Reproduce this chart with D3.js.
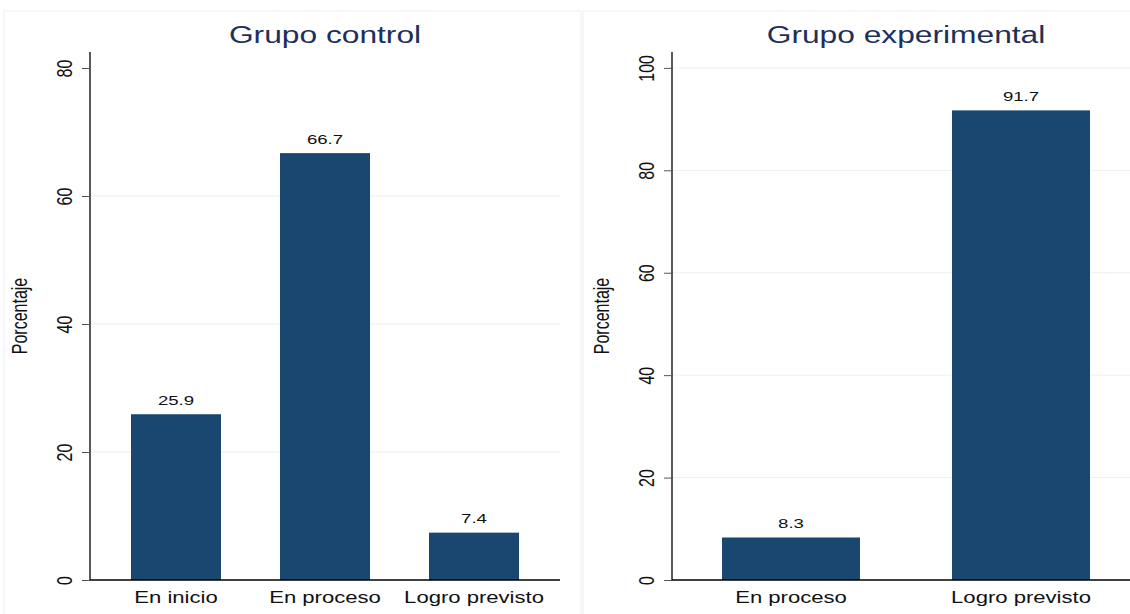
<!DOCTYPE html>
<html>
<head>
<meta charset="utf-8">
<script src="https://cdn.jsdelivr.net/npm/d3@7"></script>
<style>
  html, body { margin: 0; padding: 0; background: #fff; }
  svg { display: block; }
  text { font-family: "Liberation Sans", Arial, sans-serif; }
</style>
</head>
<body>
<svg id="chart" width="1130" height="614"></svg>
<script>
// Distribución porcentual por nivel de logro
const controlTitle = "Grupo control";
const controlCats = ["En inicio", "En proceso", "Logro previsto"];
const controlVals = [25.9, 66.7, 7.4];
const controlTicks = [0, 20, 40, 60, 80];

const expTitle = "Grupo experimental";
const expCats = ["En proceso", "Logro previsto"];
const expVals = [8.3, 91.7];
const expTicks = [0, 20, 40, 60, 80, 100];

const yLabel = "Porcentaje";

// Text is drawn wider than its natural proportions
const SX = 1.38;
const BAR = "#1a476f";
const GRID = "#e9f0f2";
const FRAME = "#eef2f4";

const svg = d3.select("#chart");

// Panel frames (open at the bottom edge of the page)
svg.append("rect").attr("x", 4).attr("y", 11).attr("width", 577).attr("height", 620)
  .attr("fill", "none").attr("stroke", FRAME).attr("stroke-width", 1.2);
svg.append("rect").attr("x", 583).attr("y", 11).attr("width", 560).attr("height", 620)
  .attr("fill", "none").attr("stroke", FRAME).attr("stroke-width", 1.2);

const panels = [
  { title: controlTitle, cats: controlCats, vals: controlVals, ticks: controlTicks,
    grid: controlTicks.filter(t => t > 0 && t < 80),
    x0: 90, x1: 560, yTop: 82.5, pIn: 0.396, pOut: 0.275 },
  { title: expTitle, cats: expCats, vals: expVals, ticks: expTicks,
    grid: expTicks.filter(t => t > 0),
    x0: 672, x1: 1140, yTop: 103.1, pIn: 0.4, pOut: 0.2174 }
];

const yBottom = 580, yTopPx = 52;

panels.forEach(p => {
  const g = svg.append("g");
  const x = d3.scaleBand().domain(p.cats).range([p.x0, p.x1])
    .paddingInner(p.pIn).paddingOuter(p.pOut);
  const y = d3.scaleLinear().domain([0, p.yTop]).range([yBottom, yTopPx]);

  // gridlines
  g.selectAll("line.grid").data(p.grid).join("line")
    .attr("class", "grid")
    .attr("x1", p.x0).attr("x2", p.x1)
    .attr("y1", d => y(d)).attr("y2", d => y(d))
    .attr("stroke", GRID).attr("stroke-width", 1);

  // bars
  g.selectAll("rect.bar").data(p.vals).join("rect")
    .attr("class", "bar")
    .attr("x", (d, i) => x(p.cats[i]))
    .attr("width", x.bandwidth())
    .attr("y", d => y(d))
    .attr("height", d => yBottom - y(d))
    .attr("fill", BAR);

  // value labels
  g.selectAll("text.val").data(p.vals).join("text")
    .attr("class", "val")
    .attr("transform", (d, i) =>
      `translate(${x(p.cats[i]) + x.bandwidth() / 2},${y(d) - 9.5}) scale(${SX},1)`)
    .attr("text-anchor", "middle")
    .attr("font-size", 13.5)
    .attr("fill", "#111")
    .text(d => d.toFixed(1));

  // y axis
  const yAxis = d3.axisLeft(y).tickValues(p.ticks).tickSize(8).tickFormat(d3.format("d"));
  const ya = g.append("g").attr("transform", `translate(${p.x0},0)`).call(yAxis);
  ya.select(".domain").attr("stroke", "#000").attr("stroke-width", 1.3)
    .attr("d", `M0,${yBottom}V${yTopPx}`);
  ya.selectAll(".tick line").attr("stroke", "#555").attr("stroke-width", 1);
  ya.selectAll(".tick text")
    .attr("x", null).attr("dy", null)
    .attr("text-anchor", "middle")
    .attr("font-size", 16)
    .attr("fill", "#111")
    .attr("transform", `translate(-18,0) scale(${SX},1) rotate(-90)`);

  // x axis
  const xAxis = d3.axisBottom(x).tickSize(0).tickPadding(0);
  const xa = g.append("g").attr("transform", `translate(0,${yBottom})`).call(xAxis);
  xa.select(".domain").attr("stroke", "#000").attr("stroke-width", 1.3)
    .attr("d", `M${p.x0},0H${p.x1}`);
  xa.selectAll(".tick text")
    .attr("y", null).attr("dy", null)
    .attr("text-anchor", "middle")
    .attr("font-size", 16)
    .attr("fill", "#111")
    .attr("transform", `translate(0,22.7) scale(${SX},1)`);

  // y axis title
  g.append("text")
    .attr("transform", `translate(${p.x0 - 63},316) scale(${SX},1) rotate(-90)`)
    .attr("text-anchor", "middle")
    .attr("font-size", 16)
    .attr("fill", "#111")
    .text(yLabel);

  // panel title
  g.append("text")
    .attr("transform", `translate(${(p.x0 + p.x1) / 2},43.3) scale(${SX},1)`)
    .attr("text-anchor", "middle")
    .attr("font-size", 23)
    .attr("fill", "#1e2f5a")
    .text(p.title);
});
</script>
</body>
</html>
